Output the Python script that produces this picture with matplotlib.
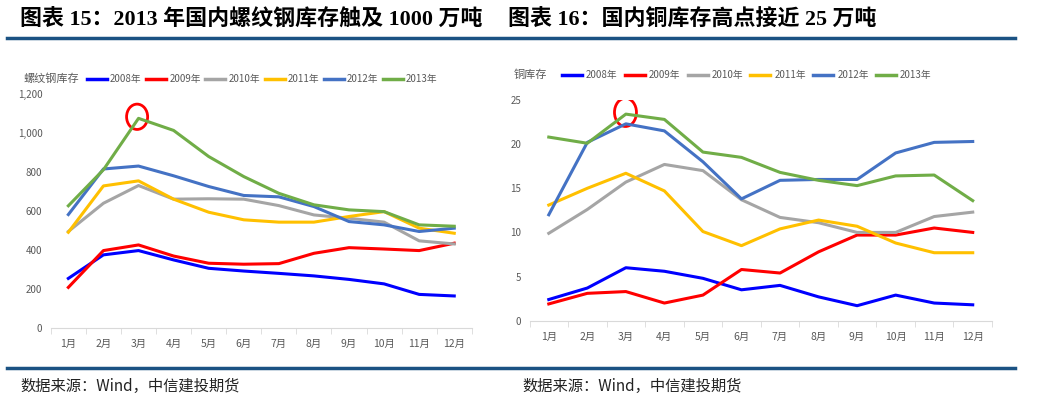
import matplotlib.pyplot as plt
from matplotlib.patches import Ellipse
from matplotlib.lines import Line2D

plt.rcParams['font.family'] = ['Noto Sans CJK SC', 'DejaVu Sans']

months = ["1月", "2月", "3月", "4月", "5月", "6月", "7月", "8月", "9月", "10月", "11月", "12月"]
years = ["2008年", "2009年", "2010年", "2011年", "2012年", "2013年"]
colors = ["#0000FF", "#FF0000", "#A5A5A5", "#FFC000", "#4472C4", "#70AD47"]

# 螺纹钢库存 (万吨)
rebar_2008 = [253, 374, 396, 348, 305, 291, 279, 266, 248, 225, 171, 163]
rebar_2009 = [207, 396, 425, 368, 331, 326, 329, 382, 411, 404, 396, 434]
rebar_2010 = [494, 639, 730, 660, 662, 660, 627, 579, 562, 542, 446, 430]
rebar_2011 = [490, 728, 754, 660, 593, 554, 542, 542, 571, 596, 511, 485]
rebar_2012 = [581, 815, 830, 780, 725, 679, 672, 622, 545, 528, 494, 511]
rebar_2013 = [626, 811, 1075, 1013, 879, 776, 690, 631, 605, 596, 528, 521]

# 铜库存 (万吨)
copper_2008 = [2.4, 3.7, 6.0, 5.6, 4.8, 3.5, 4.0, 2.7, 1.7, 2.9, 2.0, 1.8]
copper_2009 = [1.9, 3.1, 3.3, 2.0, 2.9, 5.8, 5.4, 7.8, 9.7, 9.7, 10.5, 10.0]
copper_2010 = [9.9, 12.6, 15.7, 17.7, 17.0, 13.7, 11.7, 11.1, 10.0, 10.0, 11.8, 12.3]
copper_2011 = [13.1, 15.0, 16.7, 14.7, 10.1, 8.5, 10.4, 11.4, 10.7, 8.8, 7.7, 7.7]
copper_2012 = [12.0, 20.2, 22.3, 21.5, 18.0, 13.8, 15.9, 16.0, 16.0, 19.0, 20.2, 20.3]
copper_2013 = [20.8, 20.1, 23.4, 22.8, 19.1, 18.5, 16.8, 15.9, 15.3, 16.4, 16.5, 13.6]

rebar = [rebar_2008, rebar_2009, rebar_2010, rebar_2011, rebar_2012, rebar_2013]
copper = [copper_2008, copper_2009, copper_2010, copper_2011, copper_2012, copper_2013]

fig = plt.figure(figsize=(10.37, 4.04), dpi=100)

title_color = "#1B5283"
fig.add_artist(Line2D([7 / 1037, 1015 / 1037], [1 - 38 / 404] * 2, color=title_color, lw=2.5))
fig.add_artist(Line2D([7 / 1037, 1015 / 1037], [1 - 368 / 404] * 2, color=title_color, lw=2.5))

fig.text(20 / 1037, 1 - 20 / 404, "图表 15：2013 年国内螺纹钢库存触及 1000 万吨",
         fontsize=15.8, fontweight="bold", va="center", ha="left",
         family=["Liberation Serif", "Noto Sans CJK SC"])
fig.text(508 / 1037, 1 - 20 / 404, "图表 16：国内铜库存高点接近 25 万吨",
         fontsize=15.8, fontweight="bold", va="center", ha="left",
         family=["Liberation Serif", "Noto Sans CJK SC"])
fig.text(20 / 1037, 1 - 386 / 404, "数据来源：Wind，中信建投期货", fontsize=11,
         style="italic", color="#222222", va="center")
fig.text(522 / 1037, 1 - 386 / 404, "数据来源：Wind，中信建投期货", fontsize=11,
         style="italic", color="#222222", va="center")

x = list(range(len(months)))
tick_gray = "#595959"


def style_axes(ax, ymax, ystep, fmt):
    ax.set_xlim(-0.5, 11.5)
    ax.set_ylim(0, ymax)
    for s in ["top", "right", "left"]:
        ax.spines[s].set_visible(False)
    ax.spines["bottom"].set_color("#D9D9D9")
    ax.set_xticks(x)
    ax.set_xticklabels(months, fontsize=7.5, color=tick_gray)
    ax.set_xticks([i - 0.5 for i in range(13)], minor=True)
    ax.tick_params(axis="x", which="major", length=0, pad=8)
    ax.tick_params(axis="x", which="minor", length=4, color="#D9D9D9")
    yt = list(range(0, ymax + 1, ystep))
    ax.set_yticks(yt)
    ax.set_yticklabels([fmt(v) for v in yt], fontsize=7, color=tick_gray)
    ax.tick_params(axis="y", length=0, pad=6)


# 左图：螺纹钢
ax1 = fig.add_axes([50.8 / 1037, 76.3 / 404, 421 / 1037, 233.7 / 404])
for vals, c in zip(rebar, colors):
    ax1.plot(x, vals, color=c, lw=2.2, solid_joinstyle="round", clip_on=False)
style_axes(ax1, 1200, 200, lambda v: f"{v:,}")
ax1.add_patch(Ellipse((1.96, 1083), 0.6, 130, fill=False, edgecolor="#FF0000", lw=2))

fig.text(23 / 1037, 1 - 79 / 404, "螺纹钢库存", fontsize=8, color=tick_gray, va="center")
for i, (yr, c) in enumerate(zip(years, colors)):
    x0 = (87 + i * 59.2) / 1037
    yy = 1 - 79 / 404
    fig.add_artist(Line2D([x0, x0 + 20 / 1037], [yy, yy], color=c, lw=2.5))
    fig.text(x0 + 23 / 1037, yy, yr, fontsize=7, color=tick_gray, va="center")

# 右图：铜
ax2 = fig.add_axes([529.5 / 1037, 83.3 / 404, 462.5 / 1037, 220.7 / 404])
for vals, c in zip(copper, colors):
    ax2.plot(x, vals, color=c, lw=2.2, solid_joinstyle="round", clip_on=False)
style_axes(ax2, 25, 5, lambda v: f"{v}")
ax2.add_patch(Ellipse((1.99, 23.6), 0.57, 3.2, fill=False, edgecolor="#FF0000", lw=2))

fig.text(514 / 1037, 1 - 75 / 404, "铜库存", fontsize=8, color=tick_gray, va="center")
for i, (yr, c) in enumerate(zip(years, colors)):
    x0 = (562 + i * 62.8) / 1037
    yy = 1 - 75 / 404
    fig.add_artist(Line2D([x0, x0 + 20 / 1037], [yy, yy], color=c, lw=2.5))
    fig.text(x0 + 24 / 1037, yy, yr, fontsize=7, color=tick_gray, va="center")

fig.savefig("out.png", dpi=100)
